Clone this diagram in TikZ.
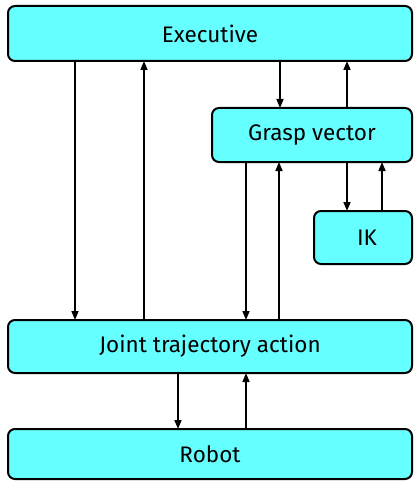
\documentclass[tikz,border=0pt]{standalone}
\usepackage{fontspec}
\setmainfont{Fira Sans}
\usetikzlibrary{arrows.meta}
\definecolor{boxcyan}{RGB}{102,255,255}
\tikzset{
  block/.style={draw=black, fill=boxcyan, line width=2pt, rounded corners=7pt,
    inner sep=0pt, outer sep=0pt, font=\fontsize{22.5}{26}\selectfont},
  link/.style={line width=1.6pt, -{Triangle[width=7pt,length=9pt]}}
}
\begin{document}
\begin{tikzpicture}[x=1pt,y=-1pt]
\useasboundingbox (0,0) rectangle (414,481);
% blocks
\node[block, minimum width=404pt, minimum height=55pt] (exec) at (210,33.5) {Executive};
\node[block, minimum width=200pt, minimum height=54pt] (grasp) at (312,135) {Grasp vector};
\node[block, minimum width=98pt, minimum height=53pt] (ik) at (363,237.5) {\hspace{8pt}IK};
\node[block, minimum width=404pt, minimum height=53pt] (jta) at (210,346.5) {Joint trajectory action};
\node[block, minimum width=404pt, minimum height=50pt] (robot) at (210,454) {Robot};
% executive <-> joint trajectory action
\draw[link] ([xshift=67pt]exec.south west) -- ([xshift=67pt]jta.north west);
\draw[link] ([xshift=136pt]jta.north west) -- ([xshift=136pt]exec.south west);
% executive <-> grasp vector
\draw[link] ([xshift=272pt]exec.south west) -- ([xshift=68pt]grasp.north west);
\draw[link] ([xshift=135pt]grasp.north west) -- ([xshift=339pt]exec.south west);
% grasp vector <-> joint trajectory action
\draw[link] ([xshift=34pt]grasp.south west) -- ([xshift=238pt]jta.north west);
\draw[link] ([xshift=271pt]jta.north west) -- ([xshift=67pt]grasp.south west);
% grasp vector <-> IK
\draw[link] ([xshift=135pt]grasp.south west) -- ([xshift=33pt]ik.north west);
\draw[link] ([xshift=68pt]ik.north west) -- ([xshift=170pt]grasp.south west);
% joint trajectory action <-> robot
\draw[link] ([xshift=170pt]jta.south west) -- ([xshift=170pt]robot.north west);
\draw[link] ([xshift=238pt]robot.north west) -- ([xshift=238pt]jta.south west);
\end{tikzpicture}
\end{document}
